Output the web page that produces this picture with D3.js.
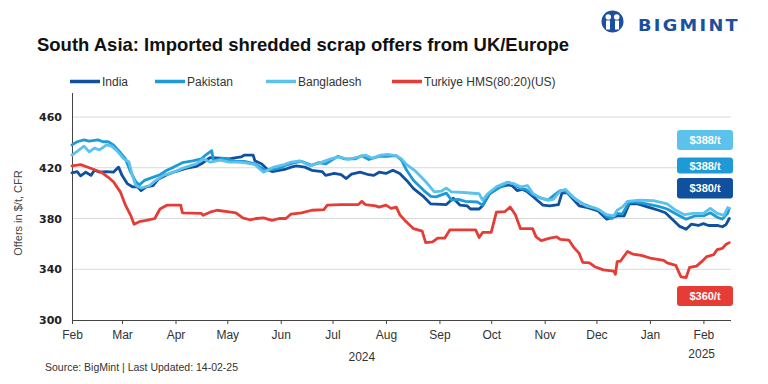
<!DOCTYPE html>
<html>
<head>
<meta charset="utf-8">
<script src="https://cdn.jsdelivr.net/npm/d3@7"></script>
<style>
  html, body { margin: 0; padding: 0; background: #ffffff; }
  svg { display: block; font-family: "Liberation Sans", Arial, sans-serif; }
</style>
</head>
<body>
<svg id="chart" width="768" height="384"></svg>
<script>
// ---------------- DATA ----------------
const seriesNames = ["India", "Pakistan", "Bangladesh", "Turkiye HMS(80:20)(US)"];
const monthTickLabels = ["Feb","Mar","Apr","May","Jun","Jul","Aug","Sep","Oct","Nov","Dec","Jan","Feb"];
const yearLabels = [["2024", "2024-07-18"], ["2025", "2025-01-31"]];
const yTicks = [300, 340, 380, 420, 460];

const india = [
["2024-02-01",416],["2024-02-04",417],["2024-02-06",413.5],["2024-02-09",416.5],["2024-02-12",414],
["2024-02-14",418],["2024-02-17",416.5],["2024-02-21",417],["2024-02-25",416.5],["2024-02-28",420.5],
["2024-03-01",414],["2024-03-04",407.5],["2024-03-07",405],["2024-03-10",405],["2024-03-12",402],
["2024-03-15",405],["2024-03-19",406],["2024-03-22",411],["2024-03-27",414.5],["2024-04-01",417],
["2024-04-07",419.5],["2024-04-13",421],["2024-04-17",424],["2024-04-21",428],["2024-04-27",427.5],
["2024-05-02",427],["2024-05-09",428.5],["2024-05-11",430],["2024-05-16",430],["2024-05-17",425.5],
["2024-05-21",423],["2024-05-24",419],["2024-05-27",417],["2024-05-31",418],["2024-06-04",419],
["2024-06-07",420.5],["2024-06-10",421.5],["2024-06-15",420.5],["2024-06-19",418],["2024-06-25",417],
["2024-06-27",414],["2024-07-02",415.5],["2024-07-06",414.5],["2024-07-09",411.5],["2024-07-12",415],
["2024-07-17",416.5],["2024-07-22",414.5],["2024-07-25",414],["2024-07-28",416.5],["2024-08-01",415.5],
["2024-08-05",418],["2024-08-09",415.5],["2024-08-13",410],["2024-08-17",403.5],["2024-08-23",397],
["2024-08-27",391.5],["2024-09-05",391],["2024-09-09",396],["2024-09-13",390.5],["2024-09-17",390],
["2024-09-19",387.5],["2024-09-24",387.5],["2024-09-26",390],["2024-09-30",399.5],["2024-10-06",405],
["2024-10-11",406.5],["2024-10-13",406],["2024-10-16",402],["2024-10-19",403],["2024-10-22",401],
["2024-10-25",397.5],["2024-10-28",394],["2024-10-31",390.5],["2024-11-04",390],["2024-11-09",391],
["2024-11-11",400],["2024-11-14",400.5],["2024-11-17",396],["2024-11-21",390],["2024-11-26",388.5],
["2024-12-02",386],["2024-12-07",379.5],["2024-12-13",382],["2024-12-17",382],["2024-12-20",391.5],
["2024-12-25",391.5],["2024-12-31",389],["2025-01-06",386.5],["2025-01-10",384.5],["2025-01-15",378],
["2025-01-18",374],["2025-01-22",371.5],["2025-01-25",375.5],["2025-01-29",374.5],["2025-02-01",376],
["2025-02-04",374.5],["2025-02-09",374.5],["2025-02-12",373.5],["2025-02-14",375],["2025-02-16",380]
];

const pakistan = [
["2024-02-01",438],["2024-02-04",440.5],["2024-02-08",442],["2024-02-11",441],["2024-02-16",442],
["2024-02-19",440.5],["2024-02-22",440.5],["2024-02-25",438],["2024-02-29",432],["2024-03-03",427],
["2024-03-06",416.5],["2024-03-09",409],["2024-03-11",406.5],["2024-03-14",410],["2024-03-18",412],
["2024-03-23",414.5],["2024-03-27",418],["2024-03-31",420.5],["2024-04-05",424],["2024-04-11",425.5],
["2024-04-16",427],["2024-04-18",429.5],["2024-04-22",433.5],["2024-04-23",425.5],["2024-04-28",427.5],
["2024-05-02",426.5],["2024-05-06",425],["2024-05-11",425],["2024-05-17",423],["2024-05-23",418],
["2024-05-29",419],["2024-06-02",420.5],["2024-06-05",422.5],["2024-06-09",424],["2024-06-13",425],
["2024-06-19",422],["2024-06-23",424],["2024-06-27",423],["2024-07-04",429],["2024-07-08",427],
["2024-07-14",427],["2024-07-18",429.5],["2024-07-22",426.5],["2024-07-28",429],["2024-08-01",429],
["2024-08-07",429.5],["2024-08-10",426],["2024-08-13",418],["2024-08-17",410],["2024-08-23",402],
["2024-08-27",397.5],["2024-08-30",397],["2024-09-05",400],["2024-09-08",394.5],["2024-09-12",395],
["2024-09-16",393.5],["2024-09-23",393],["2024-09-26",390.5],["2024-09-30",399.5],["2024-10-04",403],
["2024-10-08",406],["2024-10-11",408.5],["2024-10-14",407],["2024-10-18",403.5],["2024-10-21",403],
["2024-10-25",399],["2024-10-30",396],["2024-11-03",394.5],["2024-11-07",399],["2024-11-10",402],
["2024-11-13",401.5],["2024-11-17",397],["2024-11-23",391.5],["2024-11-28",389],["2024-12-03",386.5],
["2024-12-07",381.5],["2024-12-10",380],["2024-12-13",384],["2024-12-16",383.5],["2024-12-20",393],
["2024-12-24",393],["2024-12-30",391.5],["2025-01-06",389.5],["2025-01-11",387.5],["2025-01-17",383],
["2025-01-22",379.5],["2025-01-27",382],["2025-02-01",382],["2025-02-05",384.5],["2025-02-09",381],
["2025-02-12",379.5],["2025-02-15",384],["2025-02-16",388]
];

const bangladesh = [
["2024-02-01",430],["2024-02-04",433],["2024-02-08",437],["2024-02-11",432.5],["2024-02-14",435.5],
["2024-02-17",434],["2024-02-21",438],["2024-02-24",437],["2024-02-27",433.5],["2024-03-02",427],
["2024-03-05",424.5],["2024-03-07",414],["2024-03-09",406],["2024-03-12",404],["2024-03-17",406],
["2024-03-20",409.5],["2024-03-25",414],["2024-03-31",416.5],["2024-04-05",419.5],["2024-04-13",423],
["2024-04-17",427],["2024-04-21",424.5],["2024-04-27",426],["2024-05-02",424.5],["2024-05-06",424.5],
["2024-05-11",424],["2024-05-17",422.5],["2024-05-22",416.5],["2024-05-28",420.5],["2024-06-03",422.5],
["2024-06-07",424.5],["2024-06-12",425.5],["2024-06-18",421.5],["2024-06-24",424],["2024-06-30",427],
["2024-07-05",428.5],["2024-07-10",426.5],["2024-07-16",428.5],["2024-07-20",430],["2024-07-24",427.5],
["2024-07-29",430],["2024-08-02",430.5],["2024-08-07",429.5],["2024-08-10",427],["2024-08-13",422.5],
["2024-08-18",417.5],["2024-08-23",410.5],["2024-08-26",406],["2024-08-29",401],["2024-09-02",401.5],
["2024-09-05",404],["2024-09-08",401],["2024-09-15",400.5],["2024-09-24",399.5],["2024-09-26",394.5],
["2024-09-29",399.5],["2024-10-04",405],["2024-10-10",408.5],["2024-10-14",407.5],["2024-10-18",405],
["2024-10-22",406],["2024-10-25",400],["2024-10-29",396.5],["2024-11-03",394.5],["2024-11-06",395],
["2024-11-10",401.5],["2024-11-13",403],["2024-11-19",395],["2024-11-25",390],["2024-12-01",388],
["2024-12-07",383],["2024-12-11",382],["2024-12-13",386.5],["2024-12-16",389],["2024-12-19",393.5],
["2024-12-26",394.5],["2025-01-03",394],["2025-01-11",391.5],["2025-01-16",386.5],["2025-01-21",383],
["2025-01-26",384],["2025-02-01",384],["2025-02-05",388],["2025-02-09",384],["2025-02-13",382.5],
["2025-02-15",388.5],["2025-02-16",388]
];

const turkiye = [
["2024-02-01",421.5],["2024-02-04",422],["2024-02-06",422.5],["2024-02-11",420],["2024-02-18",416.5],
["2024-02-22",412.5],["2024-02-25",409],["2024-02-29",401],["2024-03-03",390.5],["2024-03-06",382.5],
["2024-03-08",375.5],["2024-03-11",377.5],["2024-03-15",378.5],["2024-03-20",380],["2024-03-23",387.5],
["2024-03-27",390.5],["2024-04-04",390.5],["2024-04-05",384.5],["2024-04-16",384],["2024-04-17",382.5],
["2024-04-21",385],["2024-04-25",386.5],["2024-05-01",385.5],["2024-05-06",384.5],["2024-05-10",380.5],
["2024-05-14",379],["2024-05-18",380],["2024-05-22",380.5],["2024-05-27",378.5],["2024-05-31",380],
["2024-06-04",380],["2024-06-07",383.5],["2024-06-13",384.5],["2024-06-19",386.5],["2024-06-26",387],
["2024-06-28",390.5],["2024-07-06",391],["2024-07-16",391],["2024-07-18",393.5],["2024-07-20",391],
["2024-07-26",390],["2024-07-28",389],["2024-08-01",390.5],["2024-08-04",388],["2024-08-07",389],
["2024-08-09",383],["2024-08-12",378.5],["2024-08-17",372],["2024-08-22",370],["2024-08-24",361],
["2024-08-28",361.5],["2024-08-31",364.5],["2024-09-04",364.5],["2024-09-07",371],["2024-09-22",371],
["2024-09-24",365],["2024-09-26",369],["2024-10-01",369],["2024-10-04",385],["2024-10-09",385.5],
["2024-10-12",389],["2024-10-15",383],["2024-10-18",372],["2024-10-25",372],["2024-10-27",365.5],
["2024-10-30",362.5],["2024-11-04",364.5],["2024-11-08",365.5],["2024-11-10",363.5],["2024-11-15",363],
["2024-11-18",357],["2024-11-21",352.5],["2024-11-23",345.5],["2024-11-27",345],["2024-11-30",342],
["2024-12-05",339.5],["2024-12-11",338.5],["2024-12-12",336],["2024-12-13",346],["2024-12-15",346.5],
["2024-12-19",354],["2024-12-22",352],["2024-12-27",351],["2025-01-02",348.5],["2025-01-09",347],
["2025-01-11",345],["2025-01-16",343],["2025-01-19",334],["2025-01-22",333.5],["2025-01-24",341.5],
["2025-01-28",342.5],["2025-01-31",346],["2025-02-03",350],["2025-02-07",351.5],["2025-02-09",355.5],
["2025-02-12",356.5],["2025-02-14",359.5],["2025-02-16",361]
];

const seriesColors = ["#114f9f", "#1e9bd7", "#5cc2ec", "#e53c36"];
const latestLabels = ["$380/t", "$388/t", "$388/t", "$360/t"];

// ---------------- CHART ----------------
const parse = d3.timeParse("%Y-%m-%d");
const svg = d3.select("#chart");
svg.append("rect").attr("width", 768).attr("height", 384).attr("fill", "#fff");

const x = d3.scaleTime()
  .domain([parse("2024-02-01"), parse("2025-02-17")])
  .range([72, 731]);
const y = d3.scaleLinear().domain([300, 460]).range([320, 117]);

// gridlines
svg.append("g").selectAll("line")
  .data(yTicks.filter(t => t > 300))
  .join("line")
  .attr("x1", 72).attr("x2", 731)
  .attr("y1", d => y(d)).attr("y2", d => y(d))
  .attr("stroke", "#d9d9d9").attr("stroke-width", 1);

// y axis
const yAxis = svg.append("g").attr("transform", "translate(72,0)")
  .call(d3.axisLeft(y).tickValues(yTicks).tickSize(0).tickPadding(10));
yAxis.select(".domain").remove();
yAxis.selectAll("text")
  .attr("font-family", "'DejaVu Sans', sans-serif")
  .attr("font-weight", "bold").attr("font-size", 11).attr("fill", "#222");
svg.append("line").attr("x1", 72.5).attr("x2", 72.5).attr("y1", 93).attr("y2", 324)
  .attr("stroke", "#444").attr("stroke-width", 1);

// x axis
const monthTicks = d3.timeMonth.range(parse("2024-02-01"), parse("2025-02-02"));
const xAxis = svg.append("g").attr("transform", "translate(0,320)")
  .call(d3.axisBottom(x).tickValues(monthTicks).tickSize(4).tickPadding(6)
    .tickFormat((d, i) => monthTickLabels[i]));
xAxis.select(".domain").attr("stroke", "#444").attr("d", "M72,0.5H731");
xAxis.selectAll(".tick line").attr("stroke", "#444");
xAxis.selectAll("text")
  .attr("font-family", "'Liberation Sans', Arial, sans-serif")
  .attr("font-size", 12).attr("fill", "#333");

// year labels
svg.append("g").selectAll("text").data(yearLabels).join("text")
  .attr("x", d => x(parse(d[1])))
  .attr("y", (d, i) => i === 0 ? 361 : 358)
  .attr("text-anchor", "middle")
  .attr("font-size", 12).attr("fill", "#333")
  .text(d => d[0]);

// y axis title
svg.append("text")
  .attr("transform", "translate(22,213) rotate(-90)")
  .attr("text-anchor", "middle")
  .attr("font-size", 11).attr("fill", "#444")
  .text("Offers in $/t, CFR");

// lines
const line = d3.line()
  .x(d => x(parse(d[0])))
  .y(d => y(d[1]));
const allSeries = [india, pakistan, bangladesh, turkiye];
svg.append("g").selectAll("path")
  .data(allSeries)
  .join("path")
  .attr("d", line)
  .attr("fill", "none")
  .attr("stroke", (d, i) => seriesColors[i])
  .attr("stroke-width", 2.8)
  .attr("stroke-linejoin", "round")
  .attr("stroke-linecap", "round");

// title
svg.append("text")
  .attr("x", 37).attr("y", 51)
  .attr("font-size", 18.5).attr("font-weight", "bold").attr("fill", "#111")
  .attr("textLength", 532).attr("lengthAdjust", "spacingAndGlyphs")
  .text("South Asia: Imported shredded scrap offers from UK/Europe");

// legend
const legendX = [70, 155, 266, 392];
const legend = svg.append("g").selectAll("g").data(seriesNames).join("g")
  .attr("transform", (d, i) => `translate(${legendX[i]},81.5)`);
legend.append("line").attr("x1", 0).attr("x2", 30)
  .attr("stroke", (d, i) => seriesColors[i]).attr("stroke-width", 3.5);
legend.append("text").attr("x", 32).attr("y", 4.5)
  .attr("font-size", 12).attr("fill", "#333")
  .text(d => d);

// value boxes on right
const boxes = [
  {i: 2, y0: 130, h: 20},
  {i: 1, y0: 157.5, h: 16},
  {i: 0, y0: 178, h: 20.5},
  {i: 3, y0: 286, h: 20}
];
const bg = svg.append("g").selectAll("g").data(boxes).join("g");
bg.append("rect")
  .attr("x", 677).attr("y", d => d.y0).attr("width", 56).attr("height", d => d.h)
  .attr("rx", 3).attr("fill", d => seriesColors[d.i]);
bg.append("text")
  .attr("x", 705).attr("y", d => d.y0 + d.h / 2 + 4)
  .attr("text-anchor", "middle")
  .attr("font-size", 11).attr("font-weight", "bold").attr("fill", "#fff")
  .text(d => latestLabels[d.i]);

// source
svg.append("text")
  .attr("x", 45).attr("y", 371)
  .attr("font-size", 11).attr("fill", "#333")
  .attr("textLength", 193).attr("lengthAdjust", "spacingAndGlyphs")
  .text("Source: BigMint | Last Updated: 14-02-25");

// logo
const logo = svg.append("g").attr("transform", "translate(612.5,21.5)");
logo.append("circle").attr("r", 11).attr("fill", "#1c4f9f");
logo.append("circle").attr("cx", -4.2).attr("cy", -4.5).attr("r", 2.8).attr("fill", "#fff");
logo.append("circle").attr("cx", 4.2).attr("cy", -4.5).attr("r", 2.8).attr("fill", "#fff");
logo.append("rect").attr("x", -6.5).attr("y", -1).attr("width", 4).attr("height", 9).attr("fill", "#fff");
logo.append("rect").attr("x", 2.5).attr("y", -1).attr("width", 4).attr("height", 9).attr("fill", "#fff");
logo.append("rect").attr("x", -1).attr("y", -9).attr("width", 2).attr("height", 18).attr("fill", "#1c4f9f");
svg.append("text")
  .attr("x", 638).attr("y", 30.5)
  .attr("font-family", "'DejaVu Sans', sans-serif")
  .attr("font-size", 15.5).attr("font-weight", "bold").attr("fill", "#1c4f9f")
  .attr("textLength", 102).attr("lengthAdjust", "spacingAndGlyphs")
  .attr("letter-spacing", 2)
  .text("BIGMINT");
</script>
</body>
</html>
